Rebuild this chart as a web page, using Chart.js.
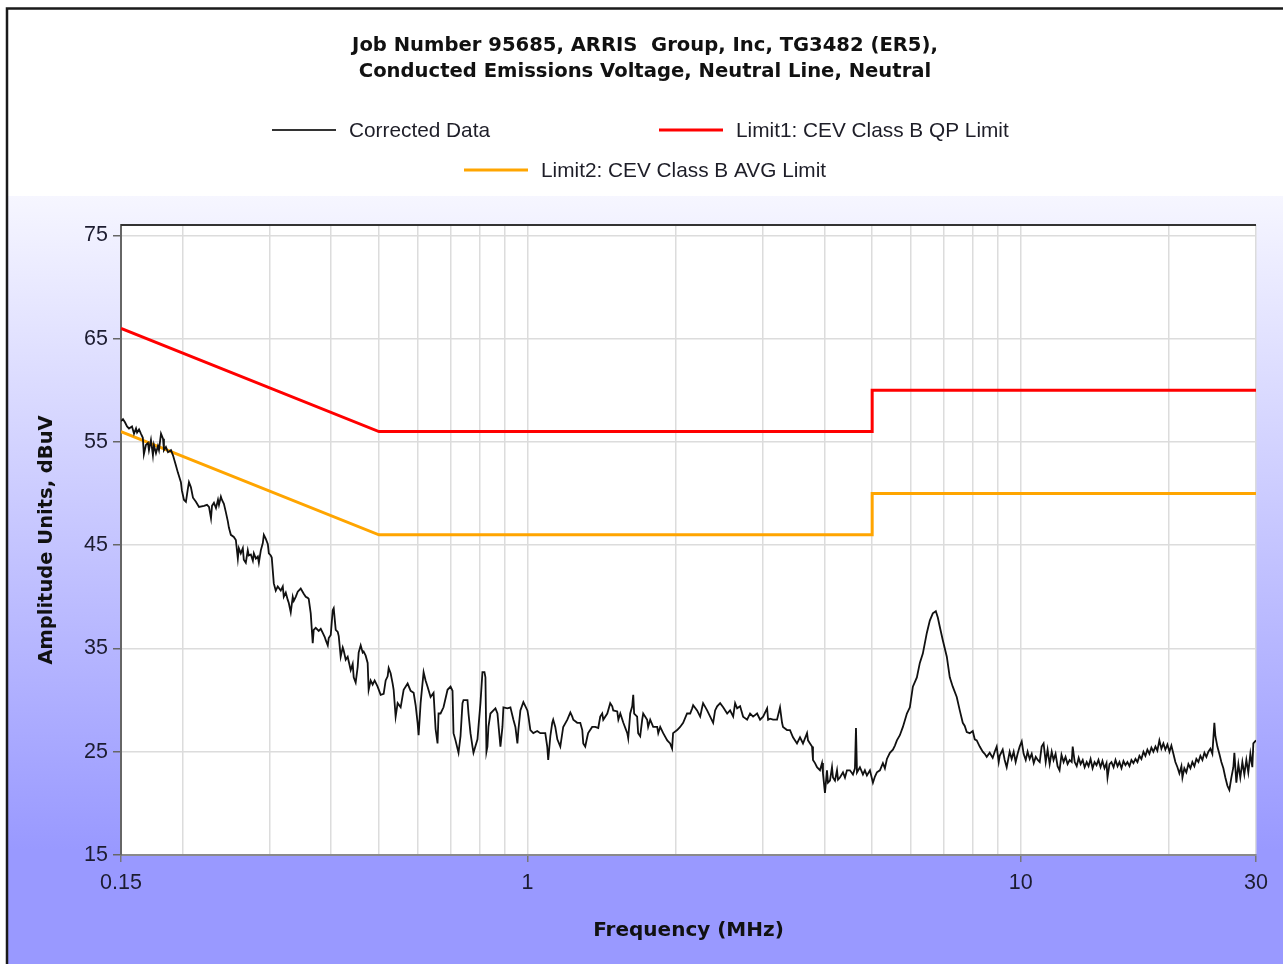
<!DOCTYPE html>
<html>
<head>
<meta charset="utf-8">
<script src="https://cdn.jsdelivr.net/npm/chart.js@4.4.1/dist/chart.umd.min.js"></script>
<style>
html,body{margin:0;padding:0;background:#fff;}
#wrap{width:1283px;height:964px;}
</style>
</head>
<body>
<div id="wrap"><canvas id="c" width="1283" height="964"></canvas></div>
<script>
const chartTitle = ['Job Number 95685, ARRIS  Group, Inc, TG3482 (ER5),', 'Conducted Emissions Voltage, Neutral Line, Neutral'];
const xAxisTitle = 'Frequency (MHz)';
const yAxisTitle = 'Amplitude Units, dBuV';
const seriesNames = ['Corrected Data', 'Limit1: CEV Class B QP Limit', 'Limit2: CEV Class B AVG Limit'];
const seriesColors = ['#111111', '#ff0000', '#ffa500'];

const xGridValues = [0.15,0.2,0.3,0.4,0.5,0.6,0.7,0.8,0.9,1,2,3,4,5,6,7,8,9,10,20,30];
const xTickValues = [0.15, 1, 10, 30];
const xTickLabels = ['0.15', '1', '10', '30'];
const yTickValues = [15, 25, 35, 45, 55, 65, 75];

const qpFreq = [0.15, 0.5, 5, 5, 30];
const qpLevel = [66, 56, 56, 60, 60];
const avgFreq = [0.15, 0.5, 5, 5, 30];
const avgLevel = [56, 46, 46, 50, 50];

const traceFreq = [
0.150,0.1514,0.1528,0.1543,0.1557,0.1579,0.1594,0.1609,0.1617,0.1632,
0.1646,0.1661,0.1669,0.1685,0.1701,0.1709,0.1725,0.1741,0.1749,0.1766,
0.1782,0.1791,0.1808,0.1825,0.1833,0.1850,0.1868,0.1894,0.1912,0.1939,
0.1957,0.1984,0.1993,0.2012,0.2031,0.2050,0.2060,0.2079,0.2099,0.2128,
0.2159,0.2210,0.2241,0.2262,0.2283,0.2294,0.2315,0.2337,0.2359,0.2370,
0.2391,0.2402,0.2425,0.2447,0.2470,0.2482,0.2505,0.2540,0.2564,0.2588,
0.2600,0.2624,0.2649,0.2661,0.2686,0.2711,0.2724,0.2750,0.2776,0.2789,
0.2815,0.2841,0.2855,0.2881,0.2908,0.2922,0.2949,0.2977,0.2991,0.3018,
0.3032,0.3061,0.3089,0.3118,0.3162,0.3192,0.3207,0.3237,0.3267,0.3283,
0.3313,0.3344,0.3360,0.3391,0.3423,0.3471,0.3520,0.3553,0.3586,0.3603,
0.3637,0.3671,0.3688,0.3723,0.3775,0.3811,0.3847,0.3883,0.3901,0.3938,
0.3956,0.3993,0.4030,0.4049,0.4087,0.4126,0.4145,0.4183,0.4223,0.4242,
0.4282,0.4322,0.4383,0.4424,0.4445,0.4486,0.4528,0.4549,0.4592,0.4635,
0.4656,0.4700,0.4744,0.4766,0.4811,0.4856,0.4901,0.4970,0.5041,0.5112,
0.5160,0.5208,0.5233,0.5281,0.5331,0.5356,0.5406,0.5457,0.5534,0.5612,
0.5717,0.5798,0.5880,0.5935,0.5990,0.6018,0.6074,0.6160,0.6217,0.6275,
0.6364,0.6453,0.6514,0.6574,0.6605,0.6667,0.6760,0.6888,0.6985,0.7050,
0.7083,0.7149,0.7250,0.7318,0.7386,0.7421,0.7560,0.7596,0.7667,0.7739,
0.7775,0.7921,0.7958,0.8032,0.8107,0.8183,0.8221,0.8260,0.8298,0.8337,
0.8415,0.8534,0.8614,0.8695,0.8817,0.8900,0.8941,0.9110,0.9238,0.9368,
0.9455,0.9544,0.9588,0.9678,0.9814,1.000,1.005,1.014,1.028,1.047,
1.062,1.087,1.097,1.102,1.113,1.123,1.128,1.139,1.150,1.166,
1.182,1.205,1.222,1.233,1.239,1.262,1.280,1.292,1.298,1.310,
1.322,1.328,1.353,1.372,1.392,1.405,1.418,1.425,1.452,1.472,
1.486,1.493,1.521,1.529,1.543,1.565,1.594,1.601,1.616,1.631,
1.639,1.646,1.669,1.677,1.693,1.709,1.717,1.749,1.757,1.774,
1.799,1.833,1.842,1.859,1.885,1.921,1.947,1.965,1.974,2.012,
2.040,2.069,2.107,2.138,2.158,2.168,2.208,2.240,2.261,2.271,
2.314,2.347,2.380,2.402,2.425,2.459,2.494,2.541,2.576,2.613,
2.637,2.662,2.699,2.737,2.789,2.828,2.868,2.922,2.963,3.005,
3.062,3.076,3.104,3.148,3.207,3.252,3.283,3.298,3.360,3.407,
3.455,3.520,3.570,3.620,3.689,3.706,3.741,3.776,3.793,3.829,
3.865,3.919,3.956,3.974,4.011,4.049,4.068,4.106,4.145,4.164,
4.203,4.243,4.263,4.302,4.363,4.404,4.445,4.507,4.571,4.614,
4.636,4.658,4.722,4.789,4.833,4.879,4.948,5.018,5.065,5.112,
5.184,5.257,5.306,5.356,5.431,5.508,5.560,5.612,5.690,5.771,
5.880,5.962,6.046,6.160,6.246,6.334,6.453,6.544,6.636,6.730,
6.793,6.856,6.953,7.084,7.183,7.284,7.420,7.526,7.632,7.703,
7.775,7.885,7.996,8.071,8.146,8.261,8.377,8.456,8.535,8.655,
8.777,8.859,8.942,9.026,9.068,9.196,9.282,9.369,9.456,9.500,
9.589,9.679,9.769,9.860,9.954,10.05,10.14,10.24,10.33,10.43,
10.53,10.63,10.73,10.83,10.93,11.03,11.13,11.24,11.34,11.45,
11.56,11.66,11.77,11.88,11.99,12.10,12.22,12.33,12.45,12.57,
12.69,12.75,12.87,12.99,13.11,13.23,13.36,13.48,13.61,13.73,
13.86,13.99,14.12,14.25,14.38,14.52,14.65,14.79,14.93,15.00,
15.14,15.28,15.43,15.57,15.72,15.86,16.01,16.16,16.31,16.46,
16.62,16.77,16.93,17.09,17.25,17.41,17.57,17.74,17.90,18.07,
18.24,18.41,18.58,18.76,18.93,19.11,19.29,19.47,19.65,19.84,
20.03,20.21,20.40,20.59,20.79,20.98,21.18,21.28,21.47,21.67,
21.88,22.09,22.29,22.50,22.71,22.93,23.14,23.36,23.58,23.80,
24.02,24.25,24.47,24.70,24.82,25.05,25.28,25.52,25.76,26.00,
26.25,26.49,26.74,26.99,27.12,27.37,27.63,27.88,28.15,28.41,
28.68,28.94,29.22,29.49,29.63,30.00
];
const traceLevel = [
57.0,57.2,56.9,56.5,56.3,56.5,55.8,56.3,55.9,56.2,
55.8,55.4,53.8,54.7,54.9,54.2,55.2,53.7,54.7,53.9,
54.6,54.2,55.8,55.3,54.2,54.5,54.0,54.2,53.7,52.7,
52.0,51.1,50.3,49.4,49.2,50.5,51.1,50.6,49.6,49.2,
48.7,48.8,48.9,48.7,47.6,48.8,49.1,48.6,49.4,48.9,
49.7,49.4,49.0,48.2,47.3,46.7,46.0,45.8,45.5,43.7,
44.7,44.2,44.7,43.6,43.3,44.5,44.0,44.1,43.5,44.2,
43.7,43.9,43.3,44.5,45.2,46.0,45.6,45.1,44.2,44.0,
43.8,41.3,40.6,41.0,40.6,41.0,40.0,40.4,39.7,39.4,
38.5,40.0,39.6,40.0,40.5,40.8,40.3,40.0,39.9,39.8,
38.4,35.5,36.8,37.0,36.7,36.9,36.5,36.1,35.8,35.3,
36.0,36.3,38.7,38.9,36.8,36.6,36.2,34.2,35.1,34.8,
33.9,34.2,32.9,33.5,32.2,31.7,33.2,34.6,35.3,34.6,
34.7,34.3,33.6,31.0,31.9,31.5,31.9,31.3,30.5,30.6,
31.9,32.3,33.1,32.6,31.6,31.0,28.4,29.7,29.3,31.0,
31.6,30.9,30.7,29.5,27.8,26.6,29.7,32.7,31.9,31.3,
30.3,30.7,27.2,25.8,28.7,28.7,29.3,31.0,31.3,30.9,
26.8,26.1,24.9,26.5,29.7,30.0,30.0,28.7,26.8,25.5,
24.9,26.2,27.4,29.7,32.7,32.7,32.2,25.0,25.5,27.4,
28.7,29.0,29.2,28.7,25.5,27.4,29.3,29.2,29.3,28.1,
27.4,25.8,27.1,29.0,29.8,29.0,28.4,27.1,26.8,27.0,
26.8,26.8,25.5,24.2,26.5,27.8,28.1,27.4,26.2,25.5,
27.4,28.1,28.8,28.4,28.1,27.8,27.8,27.1,25.8,25.5,
26.4,26.8,27.4,27.4,27.3,28.4,28.7,28.1,28.7,29.7,
29.4,29.0,28.9,28.1,28.7,27.8,26.8,26.3,28.7,29.4,
30.5,28.7,28.4,26.8,26.5,28.1,28.7,28.1,27.4,28.1,
27.4,27.4,26.8,27.4,26.8,26.1,25.8,25.3,26.8,27.1,
27.4,27.8,28.7,28.7,29.2,29.5,29.0,28.4,29.3,29.7,
29.0,28.4,27.8,29.0,29.4,29.7,29.3,28.7,29.0,28.4,
29.7,29.2,29.4,28.4,28.1,28.7,28.4,28.7,28.1,28.4,
29.2,28.1,28.2,28.1,28.1,29.3,27.8,27.4,27.1,27.1,
26.4,25.8,26.4,25.8,26.8,26.1,25.8,25.5,24.2,23.9,
23.5,23.2,23.9,22.9,21.0,23.2,22.0,22.2,23.5,22.5,
22.2,23.2,22.3,22.5,23.0,22.5,23.2,23.2,22.8,23.4,
27.3,23.0,23.5,22.8,23.2,22.7,23.2,22.0,22.6,23.0,
23.2,23.9,23.4,24.3,24.9,25.2,25.6,26.1,26.6,27.4,
28.7,29.3,31.3,32.2,33.6,34.5,36.5,37.7,38.4,38.6,
38.0,37.1,35.8,34.2,32.2,31.3,30.3,29.0,27.8,27.5,
26.9,26.8,27.0,26.2,26.1,25.5,25.0,24.8,24.5,24.9,
24.4,25.0,25.5,24.0,24.6,25.2,24.2,23.5,24.5,25.0,
24.3,25.0,24.0,24.8,25.5,26.0,24.8,24.2,25.0,24.3,
24.8,23.9,24.5,24.2,24.0,25.5,25.8,24.0,25.2,23.8,
25.0,24.2,24.8,23.6,23.2,24.7,24.0,24.5,23.8,24.2,
24.0,25.5,24.0,23.6,24.4,23.8,24.2,23.5,24.0,23.6,
24.3,23.4,24.0,23.7,24.2,23.5,24.1,23.4,23.9,22.5,
23.8,24.0,23.5,24.2,23.6,24.0,23.4,24.1,23.7,24.0,
23.6,24.2,23.9,24.3,24.0,24.6,24.3,25.0,24.6,25.2,
24.8,25.4,25.0,25.5,25.1,26.1,25.3,25.8,25.2,25.7,
25.0,25.6,24.8,24.0,23.5,22.9,23.6,22.5,23.4,23.0,
23.8,23.4,24.0,23.6,24.3,24.0,24.6,24.2,24.9,24.5,
25.0,25.3,24.8,27.8,26.5,25.5,24.8,24.0,23.4,22.5,
21.7,21.3,22.5,23.5,24.9,22.0,23.8,22.5,24.0,22.8,
24.2,23.0,24.8,23.5,25.8,26.1
];

function pairs(xs, ys) { return xs.map((x, i) => ({x: x, y: ys[i]})); }

const decorPlugin = {
  id: 'decor',
  beforeDraw(chart) {
    const {ctx, width, height, chartArea: a} = chart;
    ctx.save();
    ctx.fillStyle = '#ffffff';
    ctx.fillRect(0, 0, width, height);
    const g = ctx.createLinearGradient(0, 196, 0, 850);
    g.addColorStop(0, '#f6f6ff');
    g.addColorStop(1, '#9999ff');
    ctx.fillStyle = g;
    ctx.fillRect(8, 196, width - 8, height - 196);
    ctx.fillStyle = '#ffffff';
    ctx.fillRect(a.left, a.top, a.right - a.left, a.bottom - a.top);
    ctx.strokeStyle = '#1a1a1a';
    ctx.lineWidth = 2.5;
    ctx.beginPath();
    ctx.moveTo(7, height);
    ctx.lineTo(7, 8.5);
    ctx.lineTo(width, 8.5);
    ctx.stroke();
    ctx.restore();
  },
  afterDraw(chart) {
    const {ctx, chartArea: a} = chart;
    ctx.save();
    ctx.strokeStyle = '#333333';
    ctx.lineWidth = 2;
    ctx.beginPath();
    ctx.moveTo(a.left, a.top);
    ctx.lineTo(a.right, a.top);
    ctx.stroke();
    // legend
    const spots = [{x: 272, y: 130, w: 2}, {x: 659, y: 130, w: 3}, {x: 464, y: 170, w: 3}];
    ctx.font = '20.8px "Liberation Sans", Arial, sans-serif';
    ctx.textBaseline = 'middle';
    ctx.textAlign = 'left';
    chart.data.datasets.forEach((ds, i) => {
      const s = spots[i];
      ctx.strokeStyle = i === 0 ? '#333333' : ds.borderColor;
      ctx.lineWidth = s.w;
      ctx.beginPath();
      ctx.moveTo(s.x, s.y);
      ctx.lineTo(s.x + 64, s.y);
      ctx.stroke();
      ctx.fillStyle = '#1e1e28';
      ctx.fillText(ds.label, s.x + 77, s.y + 1);
    });
    ctx.restore();
  }
};

new Chart(document.getElementById('c'), {
  type: 'line',
  data: {
    datasets: [
      {label: seriesNames[0], data: pairs(traceFreq, traceLevel), borderColor: seriesColors[0], borderWidth: 1.8, pointRadius: 0, tension: 0, fill: false},
      {label: seriesNames[1], data: pairs(qpFreq, qpLevel), borderColor: seriesColors[1], borderWidth: 3, pointRadius: 0, tension: 0, fill: false},
      {label: seriesNames[2], data: pairs(avgFreq, avgLevel), borderColor: seriesColors[2], borderWidth: 3, pointRadius: 0, tension: 0, fill: false}
    ]
  },
  options: {
    responsive: false,
    animation: false,
    devicePixelRatio: 1,
    layout: {padding: {left: 7, top: 0, right: 0, bottom: 0}},
    plugins: {
      legend: {display: false},
      tooltip: {enabled: false},
      title: {
        display: true,
        text: chartTitle,
        color: '#111111',
        font: {family: 'DejaVu Sans', weight: 'bold', size: 19.6, lineHeight: 26 / 19.6},
        padding: {top: 33, bottom: 140}
      }
    },
    scales: {
      x: {
        type: 'logarithmic',
        position: 'bottom',
        min: 0.15,
        max: 30,
        afterBuildTicks: s => { s.ticks = xGridValues.map(v => ({value: v})); },
        afterFit: s => { s.height = 109; },
        ticks: {
          autoSkip: false, maxRotation: 0, minRotation: 0, padding: 8,
          color: '#1c1c30',
          font: {family: 'Liberation Sans', size: 21.5},
          callback: v => { const k = xTickValues.indexOf(v); return k >= 0 ? xTickLabels[k] : ''; }
        },
        grid: {
          color: '#dcdcdc', lineWidth: 1.5, tickLength: 7, tickWidth: 1.5,
          tickColor: c => (c.tick && xTickValues.indexOf(c.tick.value) >= 0) ? '#777777' : 'rgba(0,0,0,0)'
        },
        border: {color: '#8a8a8a', width: 2},
        title: {display: true, text: xAxisTitle, color: '#111111', font: {family: 'DejaVu Sans', weight: 'bold', size: 20}, padding: {top: 0, bottom: 21}}
      },
      y: {
        type: 'linear',
        position: 'left',
        min: 15,
        max: 76,
        afterBuildTicks: s => { s.ticks = yTickValues.map(v => ({value: v})); },
        afterFit: s => { s.width = 114; },
        ticks: {padding: 5, color: '#1c1c30', font: {family: 'Liberation Sans', size: 21.5}, callback: v => String(v)},
        grid: {color: '#dcdcdc', lineWidth: 1.5, tickLength: 8, tickWidth: 1.5, tickColor: '#666666'},
        border: {color: '#666666', width: 2},
        title: {display: true, text: yAxisTitle, color: '#111111', font: {family: 'DejaVu Sans', weight: 'bold', size: 19.5}, padding: {top: 28, bottom: 0}}
      },
      yPad: {
        type: 'linear',
        position: 'right',
        display: true,
        grid: {display: false, drawTicks: false},
        border: {display: false},
        ticks: {display: false},
        afterFit: s => { s.width = 27; }
      }
    }
  },
  plugins: [decorPlugin]
});
</script>
</body>
</html>
